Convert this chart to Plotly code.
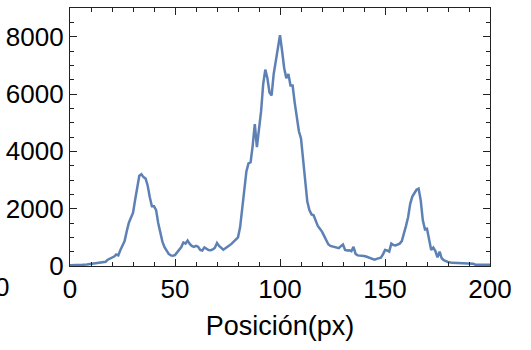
import plotly.graph_objects as go

# Data
posicion = [0, 2, 4, 6, 8, 10, 12, 14, 16, 17, 18, 19, 20, 21, 22, 23, 24, 25, 26, 27, 28, 29,
            30, 31, 32, 33, 34, 35, 36, 37, 38, 39, 40, 41, 42, 43, 44, 45, 46, 47, 48, 49,
            50, 51, 52, 53, 54, 55, 56, 57, 58, 59, 60, 61, 62, 63, 64, 65, 66, 67, 68, 69,
            70, 71, 72, 73, 74, 75, 76, 77, 78, 79, 80, 81, 82, 83, 84, 85, 86, 87, 88, 89,
            90, 91, 92, 93, 94, 95, 96, 97, 98, 99, 100, 101, 102, 103, 104, 105, 106, 107, 108, 109,
            110, 111, 112, 113, 114, 115, 116, 117, 118, 119, 120, 121, 122, 123, 124, 125, 126, 127, 128, 129,
            130, 131, 132, 133, 134, 135, 136, 137, 138, 139, 140, 141, 142, 143, 144, 145, 146, 147, 148, 149,
            150, 151, 152, 153, 154, 155, 156, 157, 158, 159, 160, 161, 162, 163, 164, 165, 166, 167, 168, 169,
            170, 171, 172, 173, 174, 175, 176, 177, 178, 179, 180, 182, 184, 186, 188, 190, 192, 193, 196, 200]
intensidad = [25, 25, 30, 40, 55, 80, 100, 130, 135, 150, 220, 260, 300, 330, 400, 370, 560, 700, 870, 1200, 1500, 1680,
              1850, 2300, 2800, 3150, 3200, 3100, 3050, 2800, 2400, 2080, 2080, 1950, 1500, 1150, 850, 660, 530, 420, 370, 360,
              380, 480, 580, 660, 820, 780, 890, 770, 700, 670, 700, 670, 560, 540, 650, 610, 560, 550, 580, 640,
              800, 700, 620, 570, 620, 660, 720, 780, 850, 910, 1000, 1350, 1950, 2500, 3300, 3580, 3620, 4200, 4950, 4150,
              4700, 5400, 6350, 6850, 6550, 6050, 5950, 6700, 7150, 7650, 8050, 7500, 6900, 6550, 6700, 6300, 6300, 5700, 5100, 4700,
              4450, 3750, 2900, 2250, 1950, 1800, 1770, 1550, 1400, 1300, 1200, 1050, 880, 760, 700, 680, 640, 620, 620, 690,
              750, 560, 540, 550, 520, 670, 420, 370, 370, 370, 350, 330, 300, 290, 260, 220, 250, 270, 290, 400,
              560, 540, 500, 780, 730, 720, 750, 780, 870, 1100, 1400, 1700, 2170, 2420, 2560, 2660, 2700, 2300, 1600, 1280,
              1300, 850, 560, 640, 520, 300, 500, 270, 200, 170, 140, 110, 100, 95, 95, 95, 80, 45, 45, 45]

x_ticks = [0, 50, 100, 150, 200]
y_ticks = [0, 2000, 4000, 6000, 8000]

FONT = "Liberation Sans"

fig = go.Figure()
fig.add_trace(go.Scatter(
    x=posicion, y=intensidad, mode="lines",
    line=dict(color="#5E81B5", width=2.5),
    showlegend=False,
))

axis_common = dict(
    showline=True, linecolor="#222222", linewidth=1.2, mirror="ticks",
    ticks="inside", ticklen=7, tickwidth=1, tickcolor="#222222",
    showgrid=False, zeroline=False, automargin=False,
    tickfont=dict(family=FONT, size=26, color="black"),
)

fig.update_xaxes(
    range=[0, 200], tickvals=x_ticks, ticktext=[str(v) for v in x_ticks],
    minor=dict(dtick=10, ticks="inside", ticklen=4, tickcolor="#222222", showgrid=False),
    title=dict(text="Posición(px)", font=dict(family=FONT, size=27, color="black"), standoff=12),
    **axis_common,
)
fig.update_yaxes(
    range=[0, 9000], tickvals=y_ticks, ticktext=[str(v) for v in y_ticks],
    minor=dict(dtick=500, ticks="inside", ticklen=4, tickcolor="#222222", showgrid=False),
    **axis_common,
)

# clipped label at the far left edge, as in the reference
fig.add_annotation(
    x=-0.161, xref="paper", y=-0.081, yref="paper", text="0", showarrow=False,
    font=dict(family=FONT, size=26, color="black"), xanchor="center", yanchor="middle",
)

fig.update_layout(
    width=531, height=350,
    margin=dict(l=70, r=41, t=8, b=84),
    paper_bgcolor="white", plot_bgcolor="white",
)

fig.write_html("out.html", config={"displayModeBar": False},
               post_script="document.body.style.margin='0';")
